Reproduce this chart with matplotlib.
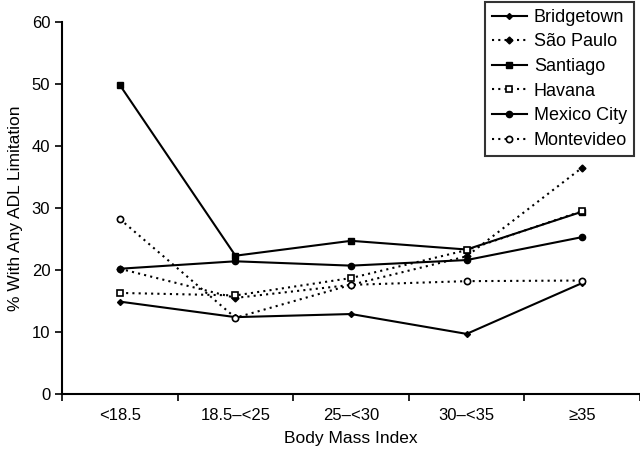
import matplotlib
matplotlib.use("Agg")
import matplotlib.pyplot as plt
import numpy as np

plt.rcParams['font.family'] = ['Liberation Sans', 'DejaVu Sans']

# categories
bmi = ["<18.5", "18.5\u2013<25", "25\u2013<30", "30\u2013<35", "\u226535"]

# series values (% with any ADL limitation)
bridgetown = [14.9, 12.4, 12.9, 9.7, 17.9]
sao_paulo = [20.2, 15.5, 17.6, 22.2, 36.5]
santiago = [49.8, 22.3, 24.7, 23.3, 29.4]
havana = [16.3, 15.9, 18.7, 23.2, 29.5]
mexico_city = [20.2, 21.4, 20.7, 21.6, 25.3]
montevideo = [28.2, 12.3, 17.6, 18.2, 18.3]

x = np.arange(len(bmi))

fig = plt.figure(figsize=(6.4, 4.54), dpi=100)
ax = fig.add_axes([0.097, 0.132, 0.903, 0.82])

lw = 1.5
dot = (0, (1, 2))
ax.plot(x, bridgetown, color="black", lw=lw, ls="-", marker="D", ms=3,
        mfc="black", mec="black", label="Bridgetown")
ax.plot(x, sao_paulo, color="black", lw=lw, ls=dot, marker="D", ms=3.5,
        mfc="black", mec="black", label="S\u00e3o Paulo")
ax.plot(x, santiago, color="black", lw=lw, ls="-", marker="s", ms=4.5,
        mfc="black", mec="black", label="Santiago")
ax.plot(x, havana, color="black", lw=lw, ls=dot, marker="s", ms=4.5,
        mfc="white", mec="black", mew=1.2, label="Havana")
ax.plot(x, mexico_city, color="black", lw=lw, ls="-", marker="o", ms=4.5,
        mfc="black", mec="black", label="Mexico City")
ax.plot(x, montevideo, color="black", lw=lw, ls=dot, marker="o", ms=4.5,
        mfc="white", mec="black", mew=1.2, label="Montevideo")

ax.set_xlim(-0.5, 4.5)
ax.set_ylim(0, 60)
ax.set_yticks(np.arange(0, 61, 10))
ax.set_xticks(np.arange(-0.5, 4.6, 1))
ax.set_xticklabels([])
ax.set_xticks(x, minor=True)
ax.set_xticklabels(bmi, minor=True)
ax.tick_params(axis="x", which="minor", length=0, pad=10, labelsize=12)
ax.tick_params(axis="x", which="major", length=5, width=1.2, direction="out")
ax.tick_params(axis="y", length=5, width=1.2, direction="out", labelsize=12)

for s in ["top", "right"]:
    ax.spines[s].set_visible(False)
for s in ["left", "bottom"]:
    ax.spines[s].set_linewidth(1.5)

ax.set_xlabel("Body Mass Index", fontsize=12.5, labelpad=6)
ax.set_ylabel("% With Any ADL Limitation", fontsize=12.5, labelpad=6)

leg = ax.legend(loc="upper right", bbox_to_anchor=(0.99, 1.054), fontsize=13,
                frameon=True, fancybox=False, edgecolor="black",
                handlelength=1.9, handletextpad=0.4, borderpad=0.4,
                labelspacing=0.42, borderaxespad=0)
leg.get_frame().set_linewidth(1.5)

fig.savefig("out.png", dpi=100)
